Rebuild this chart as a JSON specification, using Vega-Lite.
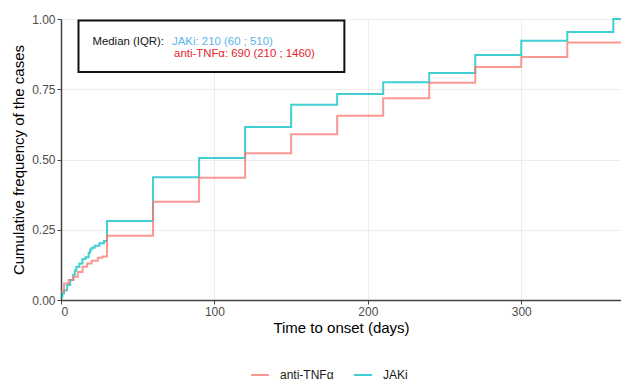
{
  "$schema": "https://vega.github.io/schema/vega-lite/v6.json",
  "width": 560,
  "height": 281,
  "autosize": {"type": "none"},
  "padding": {"left": 61, "top": 19, "right": 0, "bottom": 81},
  "background": "white",
  "config": {
    "font": "Liberation Sans",
    "view": {"stroke": null},
    "axis": {
      "grid": true,
      "gridColor": "#EDEDED",
      "gridWidth": 1,
      "domainColor": "#444444",
      "domainWidth": 1.5,
      "tickColor": "#444444",
      "tickSize": 4,
      "tickWidth": 1,
      "labelColor": "#4D4D4D",
      "labelFontSize": 12,
      "labelPadding": 2,
      "titleFontSize": 15,
      "titleFontWeight": "normal",
      "titleColor": "#000000"
    }
  },
  "datasets": {
    "curves": [
      {"treatment": "JAKi", "day": 0, "value": 0.012},
      {"treatment": "JAKi", "day": 1, "value": 0.024},
      {"treatment": "JAKi", "day": 2, "value": 0.035},
      {"treatment": "JAKi", "day": 4, "value": 0.053},
      {"treatment": "JAKi", "day": 6, "value": 0.071},
      {"treatment": "JAKi", "day": 8, "value": 0.09},
      {"treatment": "JAKi", "day": 9, "value": 0.105},
      {"treatment": "JAKi", "day": 10, "value": 0.118},
      {"treatment": "JAKi", "day": 12, "value": 0.13},
      {"treatment": "JAKi", "day": 14, "value": 0.146},
      {"treatment": "JAKi", "day": 16, "value": 0.152},
      {"treatment": "JAKi", "day": 18, "value": 0.168},
      {"treatment": "JAKi", "day": 19, "value": 0.18},
      {"treatment": "JAKi", "day": 20, "value": 0.186},
      {"treatment": "JAKi", "day": 22, "value": 0.193},
      {"treatment": "JAKi", "day": 25, "value": 0.202},
      {"treatment": "JAKi", "day": 28, "value": 0.21},
      {"treatment": "JAKi", "day": 30, "value": 0.281},
      {"treatment": "JAKi", "day": 60, "value": 0.437},
      {"treatment": "JAKi", "day": 90, "value": 0.505},
      {"treatment": "JAKi", "day": 120, "value": 0.616},
      {"treatment": "JAKi", "day": 150, "value": 0.695},
      {"treatment": "JAKi", "day": 180, "value": 0.733},
      {"treatment": "JAKi", "day": 210, "value": 0.775},
      {"treatment": "JAKi", "day": 240, "value": 0.808},
      {"treatment": "JAKi", "day": 270, "value": 0.872},
      {"treatment": "JAKi", "day": 300, "value": 0.923},
      {"treatment": "JAKi", "day": 330, "value": 0.954},
      {"treatment": "JAKi", "day": 360, "value": 1.0},
      {"treatment": "JAKi", "day": 365, "value": 1.0},
      {"treatment": "anti-TNFα", "day": 0, "value": 0.03},
      {"treatment": "anti-TNFα", "day": 2, "value": 0.059},
      {"treatment": "anti-TNFα", "day": 5, "value": 0.071},
      {"treatment": "anti-TNFα", "day": 8, "value": 0.083},
      {"treatment": "anti-TNFα", "day": 11, "value": 0.1},
      {"treatment": "anti-TNFα", "day": 14, "value": 0.118},
      {"treatment": "anti-TNFα", "day": 17, "value": 0.13},
      {"treatment": "anti-TNFα", "day": 20, "value": 0.14},
      {"treatment": "anti-TNFα", "day": 24, "value": 0.15},
      {"treatment": "anti-TNFα", "day": 27, "value": 0.155},
      {"treatment": "anti-TNFα", "day": 30, "value": 0.229},
      {"treatment": "anti-TNFα", "day": 60, "value": 0.35},
      {"treatment": "anti-TNFα", "day": 90, "value": 0.435},
      {"treatment": "anti-TNFα", "day": 120, "value": 0.522},
      {"treatment": "anti-TNFα", "day": 150, "value": 0.59},
      {"treatment": "anti-TNFα", "day": 180, "value": 0.656},
      {"treatment": "anti-TNFα", "day": 210, "value": 0.718},
      {"treatment": "anti-TNFα", "day": 240, "value": 0.773},
      {"treatment": "anti-TNFα", "day": 270, "value": 0.829},
      {"treatment": "anti-TNFα", "day": 300, "value": 0.865},
      {"treatment": "anti-TNFα", "day": 330, "value": 0.916},
      {"treatment": "anti-TNFα", "day": 365, "value": 0.916}
    ],
    "box": [{"x0": 11.4, "x1": 184.7, "y0": 0.811, "y1": 0.995}],
    "notes": [
      {"label": "Median (IQR):", "day": 20.5, "value": 0.918, "kind": "head"},
      {"label": "JAKi: 210 (60 ; 510)", "day": 72.4, "value": 0.918, "kind": "jak"},
      {"label": "anti-TNFα: 690 (210 ; 1460)", "day": 73.7, "value": 0.875, "kind": "tnf"}
    ]
  },
  "layer": [
    {
      "data": {"name": "curves"},
      "mark": {"type": "line", "interpolate": "step-after", "strokeWidth": 2, "opacity": 0.75},
      "encoding": {
        "x": {
          "field": "day", "type": "quantitative",
          "scale": {"domain": [0, 365], "nice": false, "zero": true},
          "axis": {"values": [0, 100, 200, 300], "title": "Time to onset (days)", "titlePadding": 3}
        },
        "y": {
          "field": "value", "type": "quantitative",
          "scale": {"domain": [0, 1], "nice": false},
          "axis": {"values": [0, 0.25, 0.5, 0.75, 1], "format": ".2f", "title": "Cumulative frequency of the cases", "titlePadding": 5}
        },
        "color": {
          "field": "treatment", "type": "nominal",
          "scale": {"domain": ["anti-TNFα", "JAKi"], "range": ["#F8766D", "#00BFC4"]},
          "legend": {
            "orient": "none", "legendX": 189, "legendY": 346, "direction": "horizontal",
            "title": null, "symbolType": "stroke", "symbolStrokeWidth": 2, "symbolSize": 324,
            "symbolOpacity": 0.75, "labelFontSize": 12, "labelColor": "#1A1A1A",
            "labelOffset": 10, "columnPadding": 16
          }
        }
      }
    },
    {
      "data": {"name": "box"},
      "mark": {"type": "rect", "fill": "white", "stroke": "#111111", "strokeWidth": 2},
      "encoding": {
        "x": {"field": "x0", "type": "quantitative"},
        "x2": {"field": "x1"},
        "y": {"field": "y0", "type": "quantitative"},
        "y2": {"field": "y1"}
      }
    },
    {
      "data": {"name": "notes"},
      "mark": {"type": "text", "align": "left", "baseline": "middle", "fontSize": 11.4},
      "encoding": {
        "x": {"field": "day", "type": "quantitative"},
        "y": {"field": "value", "type": "quantitative"},
        "text": {"field": "label"},
        "fill": {
          "field": "kind", "type": "nominal",
          "scale": {"domain": ["head", "jak", "tnf"], "range": ["#111111", "#5BB5E8", "#E3262B"]},
          "legend": null
        }
      }
    }
  ]
}
